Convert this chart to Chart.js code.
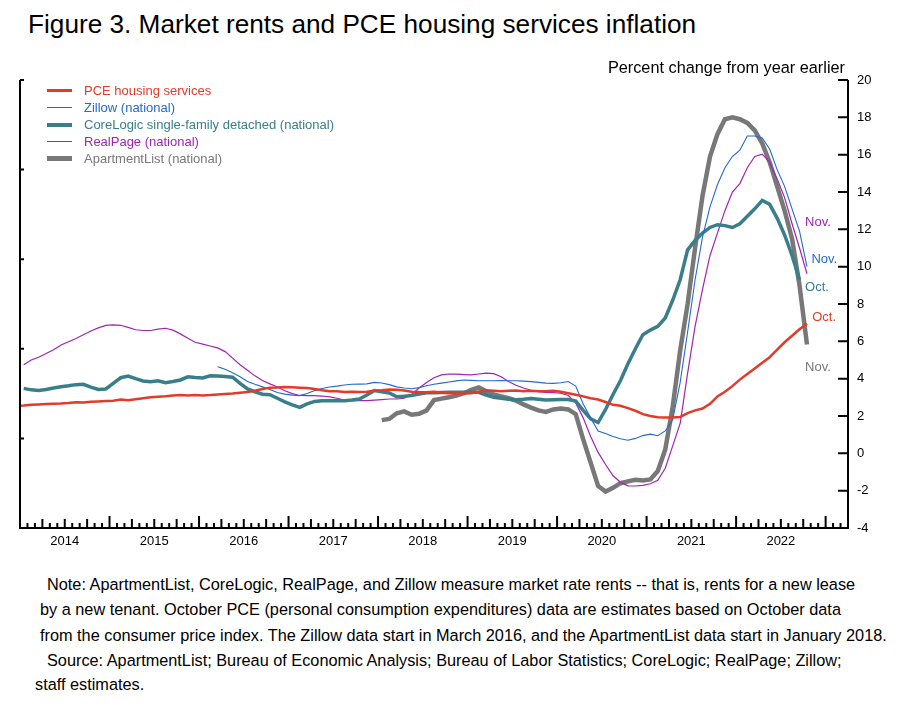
<!DOCTYPE html>
<html>
<head>
<meta charset="utf-8">
<script src="https://cdn.jsdelivr.net/npm/chart.js@4.4.1/dist/chart.umd.min.js"></script>
<style>
  body { margin: 0; background: #fff; font-family: "Liberation Sans", Arial, sans-serif; color: #000; }
  #page { position: relative; width: 902px; height: 706px; overflow: hidden; }
  #title { position: absolute; left: 28px; top: 9px; font-size: 26.2px; line-height: 30px; white-space: nowrap; }
  #unit { position: absolute; right: 57px; top: 58px; font-size: 16.3px; line-height: 19px; white-space: nowrap; }
  #wrap { position: absolute; left: 0; top: 0; width: 902px; height: 560px; }
  #legend { position: absolute; left: 47px; top: 82px; font-size: 13px; }
  #legend div { position: relative; height: 17px; line-height: 17px; padding-left: 37px; white-space: nowrap; }
  #legend span { position: absolute; left: 0; width: 25px; }
  .note { position: absolute; font-size: 16.3px; line-height: 19px; white-space: nowrap; }
</style>
</head>
<body>
<div id="page">
  <div id="title">Figure 3. Market rents and PCE housing services inflation</div>
  <div id="wrap"><canvas id="rentChart"></canvas></div>
  <div id="unit">Percent change from year earlier</div>
  <div id="legend"></div>
  <div class="note" style="left:47px; top:575px;">Note: ApartmentList, CoreLogic, RealPage, and Zillow measure market rate rents -- that is, rents for a new lease</div>
  <div class="note" style="left:40px; top:600px;">by a new tenant. October PCE (personal consumption expenditures) data are estimates based on October data</div>
  <div class="note" style="left:40px; top:626px;">from the consumer price index. The Zillow data start in March 2016, and the ApartmentList data start in January 2018.</div>
  <div class="note" style="left:47px; top:651px;">Source: ApartmentList; Bureau of Economic Analysis; Bureau of Labor Statistics; CoreLogic; RealPage; Zillow;</div>
  <div class="note" style="left:35px; top:675px;">staff estimates.</div>
</div>
<script>
// Monthly data, index 0 = Dec 2013
const firstMonth = { year: 2013, month: 12 };
const yearLabels = ["2014", "2015", "2016", "2017", "2018", "2019", "2020", "2021", "2022"];
const yTicks = { min: -4, max: 20, step: 2 };

const pceHousing = [
    2.55, 2.56, 2.6, 2.62, 2.64, 2.66, 2.67, 2.7, 2.74, 2.72, 2.76, 2.78,
    2.8, 2.82, 2.88, 2.85, 2.9, 2.95, 3.0, 3.03, 3.06, 3.1, 3.12, 3.1,
    3.12, 3.1, 3.12, 3.15, 3.18, 3.2, 3.25, 3.28, 3.35, 3.45, 3.52, 3.53,
    3.55, 3.54, 3.52, 3.5, 3.45, 3.38, 3.32, 3.32, 3.28, 3.3, 3.28, 3.3,
    3.35, 3.38, 3.42, 3.4, 3.36, 3.3, 3.28, 3.27, 3.3, 3.25, 3.22, 3.2,
    3.2, 3.22, 3.3, 3.38, 3.35, 3.32, 3.35, 3.36, 3.32, 3.35, 3.32, 3.33,
    3.35, 3.3, 3.22, 3.14, 3.05, 2.95, 2.88, 2.75, 2.6, 2.55, 2.42, 2.28,
    2.1, 2.0, 1.93, 1.92, 1.92, 1.95, 2.15, 2.3, 2.4, 2.65, 3.05, 3.3,
    3.6, 3.95, 4.25, 4.55, 4.85, 5.15, 5.55, 5.95, 6.3, 6.65, 6.95
];

const coreLogic = [
    null, 3.48, 3.4, 3.37, 3.42, 3.5, 3.57, 3.62, 3.68, 3.7, 3.55, 3.42,
    3.45, 3.75, 4.05, 4.14, 4.0, 3.88, 3.84, 3.89, 3.78, 3.85, 3.93, 4.1,
    4.06, 4.04, 4.15, 4.14, 4.12, 4.08, 3.75, 3.45, 3.3, 3.17, 3.14, 2.95,
    2.76, 2.6, 2.46, 2.65, 2.78, 2.82, 2.82, 2.82, 2.82, 2.86, 2.91, 3.12,
    3.36, 3.3, 3.23, 3.03, 3.06, 3.1, 3.18, 3.24, 3.25, 3.26, 3.27, 3.27,
    3.27, 3.27, 3.27, 3.12, 3.0, 2.95, 2.9, 2.87, 2.9, 2.94, 2.9, 2.86,
    2.87, 2.88, 2.88, 2.8, 2.3, 1.85, 1.65, 2.35, 3.15, 3.9, 4.8, 5.6,
    6.35, 6.6, 6.8, 7.25, 8.2, 9.3, 10.9, 11.4, 11.8, 12.1, 12.25, 12.2,
    12.1, 12.3, 12.7, 13.1, 13.55, 13.34, 12.6, 11.7, 10.6, 9.3
];

const realPage = [
    null, 4.75, 5.0, 5.15, 5.35, 5.55, 5.8, 5.98, 6.15, 6.35, 6.55, 6.72,
    6.85, 6.88, 6.86, 6.75, 6.62, 6.58, 6.58, 6.65, 6.7, 6.6, 6.4, 6.16,
    5.95, 5.85, 5.75, 5.65, 5.45, 5.1, 4.75, 4.45, 4.15, 3.9, 3.72, 3.55,
    3.35, 3.2, 3.1, 3.09, 3.09, 3.07, 3.02, 2.95, 2.85, 2.82, 2.82, 2.82,
    2.85, 2.88, 2.91, 2.91, 2.95, 3.15, 3.5, 3.8, 4.05, 4.2, 4.25, 4.24,
    4.22, 4.2, 4.25, 4.3, 4.27, 4.1, 3.85, 3.65, 3.5, 3.38, 3.3, 3.27,
    3.25, 3.22, 3.1, 2.7, 1.9, 0.9, 0.05, -0.6, -1.2, -1.55, -1.74, -1.75,
    -1.72, -1.63, -1.45, -0.8, 0.4, 1.6, 4.3, 6.8, 8.8, 10.6, 11.8, 13.0,
    14.0, 14.45, 15.3, 15.9, 16.03, 15.6, 14.7, 13.7, 12.3, 11.0, 9.62
];

// Zillow starts March 2016 (index 27)
const zillowStart = 27;
const zillow = [
    4.64, 4.5, 4.32, 4.1, 3.85, 3.7, 3.56, 3.42, 3.26,
    3.17, 3.12, 3.09, 3.2, 3.36, 3.47, 3.55, 3.6, 3.66, 3.7, 3.71, 3.72,
    3.8, 3.77, 3.68, 3.56, 3.5, 3.46, 3.52, 3.62, 3.7, 3.76, 3.82, 3.88,
    3.93, 3.91, 3.89, 3.89, 3.89, 3.9, 3.89, 3.89, 3.87, 3.84, 3.8, 3.76,
    3.75, 3.78, 3.85, 3.6, 2.64, 1.9, 1.2, 1.06, 0.9, 0.78, 0.7, 0.8,
    0.95, 1.03, 0.94, 1.2, 1.8, 3.8, 6.5, 9.3, 11.6, 13.2, 14.4, 15.3,
    15.9, 16.24, 17.0, 17.0, 16.9, 16.3, 15.2, 14.3, 13.1, 11.9, 10.0
];

// ApartmentList starts January 2018 (index 49)
const aptListStart = 49;
const apartmentList = [
    1.78, 1.84, 2.15, 2.25, 2.07, 2.12, 2.3, 2.85, 2.93, 3.0, 3.09,
    3.22, 3.4, 3.53, 3.32, 3.15, 3.05, 2.95, 2.82, 2.62, 2.45, 2.3, 2.22,
    2.35, 2.4, 2.35, 2.1, 0.75, -0.5, -1.75, -2.05, -1.85, -1.6, -1.5, -1.42,
    -1.45, -1.4, -0.95, 0.2, 2.5, 5.5, 8.0, 11.0, 13.8, 15.9, 17.1, 17.9,
    18.0, 17.9, 17.7, 17.3, 16.6, 15.6, 14.3, 13.0, 11.5, 9.0, 5.83
];

const colors = {
    pce: "#e23b2a",
    zillow: "#2469cc",
    coreLogic: "#3a7e8b",
    realPage: "#a024b3",
    aptList: "#787878"
};

// turn a value list into {x, y} points, x = month index
function toPoints(values, start) {
    return values.map((v, i) => ({ x: start + i, y: v }));
}

const series = [
    { label: "PCE housing services", data: toPoints(pceHousing, 0), color: colors.pce, width: 2.5, swatch: 3 },
    { label: "Zillow (national)", data: toPoints(zillow, zillowStart), color: colors.zillow, width: 1.1, swatch: 1 },
    { label: "CoreLogic single-family detached (national)", data: toPoints(coreLogic, 0), color: colors.coreLogic, width: 3.5, swatch: 4 },
    { label: "RealPage (national)", data: toPoints(realPage, 0), color: colors.realPage, width: 1.2, swatch: 1 },
    { label: "ApartmentList (national)", data: toPoints(apartmentList, aptListStart), color: colors.aptList, width: 4.5, swatch: 5 }
];

// end-of-line labels (month index, value)
const endNotes = [
    { text: "Nov.", color: colors.realPage, x: 105.75, y: 12.38 },
    { text: "Nov.", color: colors.zillow, x: 106.6, y: 10.39 },
    { text: "Oct.", color: colors.coreLogic, x: 105.75, y: 8.89 },
    { text: "Oct.", color: colors.pce, x: 106.7, y: 7.28 },
    { text: "Nov.", color: colors.aptList, x: 105.75, y: 4.59 }
];

// legend in html
const legendBox = document.getElementById("legend");
series.forEach(s => {
    const row = document.createElement("div");
    row.style.color = s.color;
    const sw = document.createElement("span");
    sw.style.background = s.color;
    sw.style.height = s.swatch + "px";
    sw.style.top = (8.5 - s.swatch / 2) + "px";
    row.appendChild(sw);
    row.appendChild(document.createTextNode(s.label));
    legendBox.appendChild(row);
});

const monthCount = yearLabels.length * 12 + 3;   // axis runs to spring 2023

// axes lines, inward ticks and end labels
const axisDecor = {
    id: "axisDecor",
    afterDraw(chart) {
        const { ctx, chartArea: a, scales: { x, y } } = chart;
        ctx.save();
        ctx.strokeStyle = "#000";
        ctx.lineWidth = 2;
        ctx.beginPath();
        ctx.moveTo(a.left, a.top); ctx.lineTo(a.left, a.bottom);
        ctx.moveTo(a.right, a.top); ctx.lineTo(a.right, a.bottom);
        ctx.moveTo(a.left - 1, a.bottom); ctx.lineTo(a.right + 1, a.bottom);
        for (let k = 0; k <= 5; k++) {
            const py = a.top + k * (a.bottom - a.top) / 5;
            ctx.moveTo(a.left, py); ctx.lineTo(a.left + 4, py);
        }
        for (let v = yTicks.min; v <= yTicks.max; v += yTicks.step) {
            const py = y.getPixelForValue(v);
            ctx.moveTo(a.right, py); ctx.lineTo(a.right - 10, py);
        }
        for (let m = 0; m <= monthCount; m++) {
            const px = x.getPixelForValue(m + 0.5);
            const len = m % 12 === 0 ? 12 : (m % 3 === 0 ? 9 : 5);
            ctx.moveTo(px, a.bottom); ctx.lineTo(px, a.bottom - len);
        }
        ctx.stroke();

        ctx.font = "13px 'Liberation Sans', Arial, sans-serif";
        ctx.textAlign = "left";
        ctx.textBaseline = "middle";
        endNotes.forEach(n => {
            ctx.fillStyle = n.color;
            ctx.fillText(n.text, x.getPixelForValue(n.x), y.getPixelForValue(n.y));
        });
        ctx.restore();
    }
};

Chart.defaults.font.family = "'Liberation Sans', Arial, sans-serif";
Chart.defaults.color = "#000";

const ctx = document.getElementById("rentChart").getContext("2d");
new Chart(ctx, {
    type: "line",
    data: {
        datasets: series.map(s => ({
            label: s.label,
            data: s.data,
            borderColor: s.color,
            backgroundColor: s.color,
            borderWidth: s.width,
            pointRadius: 0,
            tension: 0,
            clip: 0
        }))
    },
    options: {
        responsive: true,
        maintainAspectRatio: false,
        animation: false,
        layout: { padding: { left: 20, top: 80, right: 0, bottom: 0 } },
        plugins: {
            legend: { display: false },
            tooltip: { enabled: false }
        },
        scales: {
            x: {
                type: "linear",
                min: 0.5,
                max: monthCount + 0.5,
                grid: { display: false, drawTicks: false },
                border: { display: false },
                afterBuildTicks(scale) {
                    scale.ticks = yearLabels.map((yr, k) => ({ value: 6.5 + 12 * k }));
                },
                afterFit(scale) { scale.height = 32; },
                ticks: {
                    autoSkip: false,
                    maxRotation: 0,
                    padding: 6,
                    font: { size: 13 },
                    callback: (v) => yearLabels[Math.round((v - 6.5) / 12)]
                }
            },
            y: {
                position: "right",
                min: yTicks.min,
                max: yTicks.max,
                grid: { display: false, drawTicks: false },
                border: { display: false },
                afterFit(scale) { scale.width = 54; },
                ticks: { stepSize: yTicks.step, padding: 9, font: { size: 13 } }
            }
        }
    },
    plugins: [axisDecor]
});
</script>
</body>
</html>
